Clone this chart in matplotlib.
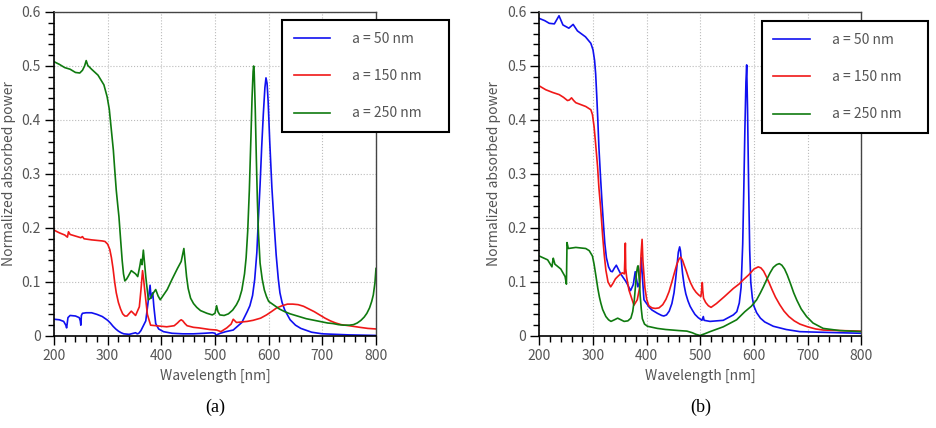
import numpy as np
import matplotlib
matplotlib.use('Agg')
import matplotlib.pyplot as plt
from matplotlib.ticker import MultipleLocator

plt.rcParams['font.family'] = ['Noto Sans CJK JP', 'DejaVu Sans']

labels = ['a = 50 nm', 'a = 150 nm', 'a = 250 nm']
colors = ['#1010f0', '#f01818', '#0f7a0f']

# ---- panel (a) ----
a_wl_50 = [200, 210, 218, 222, 223.5, 226, 230, 240, 247, 249, 250, 251, 253, 260, 270, 280, 290, 300,
           305, 310, 315, 320, 325, 330, 340, 348, 352, 355, 358, 362, 366, 371, 375, 379, 381, 384, 386,
           389.5, 395, 404, 420, 440, 460, 480, 495, 500, 502, 505, 510, 520, 534, 550, 560, 565, 570,
           574, 578, 581, 584, 587, 590, 593, 595, 597, 599, 602, 606, 610, 614, 618, 621, 625, 630,
           640, 650, 660, 680, 700, 750, 800]
a_val_50 = [0.031, 0.030, 0.027, 0.020, 0.015, 0.034, 0.038, 0.037, 0.034, 0.028, 0.020, 0.038, 0.042,
            0.043, 0.043, 0.040, 0.036, 0.029, 0.024, 0.018, 0.013, 0.009, 0.006, 0.004, 0.003, 0.005,
            0.006, 0.004, 0.005, 0.010, 0.018, 0.028, 0.060, 0.094, 0.070, 0.080, 0.055, 0.023, 0.013,
            0.008, 0.005, 0.004, 0.004, 0.005, 0.006, 0.005, 0.001, 0.003, 0.005, 0.008, 0.011, 0.025,
            0.045, 0.056, 0.075, 0.105, 0.155, 0.220, 0.280, 0.350, 0.410, 0.460, 0.478, 0.468, 0.435,
            0.360, 0.275, 0.210, 0.150, 0.105, 0.080, 0.062, 0.048, 0.030, 0.020, 0.014, 0.007, 0.004,
            0.002, 0.001]

a_wl_150 = [200, 210, 220, 225, 227, 230, 240, 250, 253, 256, 270, 290, 295, 300, 304, 307, 310, 313,
            316, 320, 324, 328, 332, 336, 344, 352, 359, 362, 365, 367, 369, 374, 380, 400, 410, 424,
            430, 434, 437, 440, 444, 448, 460, 470, 490, 503, 511, 522, 530, 534, 540, 560, 571, 585,
            596, 605, 615, 625, 635, 645, 655, 665, 675, 685, 695, 705, 715, 725, 735, 750, 770, 785, 800]
a_val_150 = [0.196, 0.191, 0.187, 0.183, 0.193, 0.188, 0.185, 0.182, 0.184, 0.180, 0.178, 0.176, 0.175,
             0.170, 0.160, 0.145, 0.125, 0.100, 0.080, 0.062, 0.050, 0.041, 0.037, 0.037, 0.046, 0.038,
             0.054, 0.085, 0.121, 0.105, 0.085, 0.040, 0.020, 0.018, 0.017, 0.019, 0.024, 0.028, 0.030,
             0.028, 0.023, 0.019, 0.016, 0.015, 0.012, 0.011, 0.008, 0.015, 0.022, 0.031, 0.025, 0.027,
             0.029, 0.033, 0.039, 0.045, 0.052, 0.056, 0.059, 0.059, 0.058, 0.055, 0.050, 0.045, 0.039,
             0.033, 0.028, 0.024, 0.021, 0.019, 0.016, 0.014, 0.013]

a_wl_250 = [200, 210, 220, 230, 240, 248, 253, 257, 260, 263, 270, 282, 293, 299, 303, 306, 308, 310.6,
            313, 316, 319, 321, 324, 327, 329.5, 332, 335, 338, 344, 352, 356, 360, 362, 364, 366.5, 371,
            375.8, 380, 384, 389.5, 394, 398, 411, 420, 430, 437, 442, 447, 450, 454.5, 460, 466, 473,
            485, 495, 500, 503, 505.5, 509, 517, 525, 533, 540, 545, 550, 555, 558, 561, 564, 567, 569,
            571, 572, 573, 575, 577, 579, 581, 584, 588, 592, 596, 600, 610, 620, 630, 640, 650, 660,
            670, 680, 690, 700, 710, 720, 730, 740, 750, 758, 765, 772, 778, 783, 788, 792, 795, 798, 800]
a_val_250 = [0.508, 0.503, 0.497, 0.494, 0.488, 0.487, 0.492, 0.500, 0.510, 0.501, 0.494, 0.483, 0.465,
             0.443, 0.420, 0.390, 0.370, 0.344, 0.310, 0.270, 0.240, 0.221, 0.180, 0.140, 0.115, 0.102,
             0.105, 0.110, 0.121, 0.115, 0.110, 0.130, 0.142, 0.132, 0.159, 0.110, 0.067, 0.070, 0.078,
             0.086, 0.074, 0.067, 0.086, 0.105, 0.125, 0.138, 0.162, 0.110, 0.088, 0.070, 0.060, 0.053,
             0.047, 0.042, 0.039, 0.042, 0.056, 0.045, 0.039, 0.038, 0.041, 0.048, 0.058, 0.068, 0.085,
             0.115, 0.145, 0.195, 0.270, 0.370, 0.440, 0.490, 0.500, 0.490, 0.420, 0.330, 0.250, 0.190,
             0.135, 0.105, 0.085, 0.073, 0.064, 0.057, 0.050, 0.045, 0.041, 0.038, 0.035, 0.032, 0.030,
             0.028, 0.026, 0.024, 0.023, 0.021, 0.020, 0.020, 0.021, 0.024, 0.029, 0.035, 0.042, 0.052,
             0.064, 0.076, 0.098, 0.125]

# ---- panel (b) ----
b_wl_50 = [200, 210, 218.6, 228, 236.7, 244, 255, 263, 271, 286, 296, 300, 303, 305, 307, 309, 311, 314,
           317, 320, 322, 325, 329, 333, 336, 340, 343.5, 347, 351.6, 362, 370, 375, 378.7, 383.6, 387,
           390, 392, 395, 400, 405, 410, 420, 428, 432, 437, 442, 447, 451, 454, 457, 459, 461.5, 463,
           465, 467, 470, 473, 477, 481, 485, 490, 496, 503, 505.6, 507, 518, 542.8, 561.5, 568, 572.6,
           576, 579, 581, 583, 585, 586.4, 588, 590, 592, 594, 597, 600, 605, 612, 620, 636, 660, 685.6,
           720, 760, 800]
b_val_50 = [0.588, 0.584, 0.579, 0.578, 0.593, 0.576, 0.570, 0.577, 0.565, 0.554, 0.542, 0.530, 0.510,
            0.485, 0.445, 0.400, 0.350, 0.295, 0.245, 0.200, 0.172, 0.145, 0.128, 0.120, 0.119, 0.126,
            0.131, 0.124, 0.115, 0.100, 0.084, 0.095, 0.119, 0.091, 0.100, 0.145, 0.110, 0.067, 0.060,
            0.053, 0.048, 0.042, 0.038, 0.037, 0.039, 0.046, 0.060, 0.080, 0.105, 0.135, 0.155, 0.165,
            0.158, 0.135, 0.115, 0.093, 0.078, 0.065, 0.055, 0.048, 0.040, 0.034, 0.029, 0.036, 0.029,
            0.027, 0.029, 0.039, 0.045, 0.061, 0.090, 0.170, 0.270, 0.380, 0.470, 0.502, 0.420, 0.280,
            0.160, 0.100, 0.070, 0.055, 0.043, 0.033, 0.026, 0.018, 0.012, 0.008, 0.007, 0.006, 0.005]

b_wl_150 = [200, 212, 224.8, 237, 245, 252.5, 256, 260, 264, 268, 286.5, 296, 299, 302, 305, 308.5, 311,
            314.6, 318, 321, 324, 328, 333, 337, 342, 348, 354.6, 358.5, 360.3, 361, 362.6, 367, 376.3,
            382.5, 387, 389.5, 391.5, 393, 396.7, 400, 404, 410, 416, 423, 430, 436, 441.7, 447, 452,
            456, 460, 463.5, 467, 470, 474, 478, 482, 487, 492, 497, 501, 502.5, 503.7, 504.5, 506, 510,
            515, 520, 530, 545, 561.5, 572, 580, 590, 600, 608, 613, 618, 623, 628, 634, 640, 648, 656,
            665, 675, 685.6, 700, 715, 729, 760, 800]
b_val_150 = [0.463, 0.456, 0.451, 0.447, 0.442, 0.436, 0.437, 0.441, 0.436, 0.432, 0.425, 0.419, 0.410,
             0.388, 0.355, 0.314, 0.275, 0.233, 0.185, 0.150, 0.122, 0.100, 0.091, 0.097, 0.106, 0.112,
             0.117, 0.115, 0.172, 0.125, 0.110, 0.085, 0.057, 0.067, 0.090, 0.150, 0.179, 0.140, 0.090,
             0.068, 0.056, 0.052, 0.051, 0.052, 0.058, 0.068, 0.082, 0.100, 0.118, 0.132, 0.142, 0.146,
             0.140, 0.131, 0.120, 0.108, 0.098, 0.088, 0.081, 0.076, 0.073, 0.085, 0.099, 0.085, 0.070,
             0.062, 0.056, 0.053, 0.060, 0.073, 0.088, 0.096, 0.104, 0.113, 0.124, 0.128, 0.126, 0.120,
             0.110, 0.099, 0.085, 0.072, 0.058, 0.046, 0.036, 0.028, 0.022, 0.017, 0.013, 0.011, 0.010,
             0.009]

b_wl_250 = [200, 215.5, 223.5, 225, 226, 229, 240, 248, 250.5, 251.6, 254, 268, 286.5, 293, 299, 302,
            305.5, 309, 312, 314.6, 318, 324, 329, 333.5, 340, 346, 352, 358, 365, 370.6, 374, 377, 379,
            381, 383, 384, 385, 386.5, 388, 390, 392, 396, 401.5, 420, 435.5, 460, 475, 485, 492, 499.4,
            508, 518, 542.8, 567.7, 583, 595, 605, 612, 617.5, 624, 630, 636, 642, 647.2, 652, 657, 662,
            668, 674, 680, 688, 698, 710, 729, 760, 800]
b_val_250 = [0.148, 0.141, 0.128, 0.138, 0.144, 0.133, 0.124, 0.110, 0.096, 0.173, 0.162, 0.164, 0.162,
             0.158, 0.148, 0.133, 0.111, 0.088, 0.072, 0.061, 0.049, 0.036, 0.030, 0.027, 0.030, 0.033,
             0.030, 0.027, 0.028, 0.033, 0.045, 0.067, 0.090, 0.116, 0.128, 0.130, 0.120, 0.100, 0.074,
             0.050, 0.032, 0.022, 0.018, 0.014, 0.012, 0.010, 0.009, 0.006, 0.003, 0.001, 0.004, 0.008,
             0.017, 0.030, 0.045, 0.055, 0.067, 0.080, 0.091, 0.105, 0.117, 0.127, 0.132, 0.134, 0.131,
             0.124, 0.113, 0.097, 0.080, 0.066, 0.050, 0.036, 0.024, 0.014, 0.010, 0.008]

panels = [
    ('(a)', [(a_wl_50, a_val_50), (a_wl_150, a_val_150), (a_wl_250, a_val_250)], 0.0577,
     (0.708, 0.642, 0.519, 0.333)),
    ('(b)', [(b_wl_50, b_val_50), (b_wl_150, b_val_150), (b_wl_250, b_val_250)], 0.5762,
     (0.691, 0.642, 0.516, 0.330)),
]

txt = '#555555'
fig = plt.figure(figsize=(9.36, 4.28), dpi=100)

for cap, series, left, leg_box in panels:
    ax = fig.add_axes([left, 0.215, 0.344, 0.757])
    for (wl, val), c, lab in zip(series, colors, labels):
        ax.plot(wl, val, color=c, lw=1.2, label=lab)
    ax.set_xlim(200, 800)
    ax.set_ylim(0, 0.6)
    ax.xaxis.set_major_locator(MultipleLocator(100))
    ax.xaxis.set_minor_locator(MultipleLocator(20))
    ax.set_yticks(np.arange(0, 0.61, 0.1))
    ax.set_yticklabels(['0', '0.1', '0.2', '0.3', '0.4', '0.5', '0.6'])
    ax.yaxis.set_minor_locator(MultipleLocator(0.02))
    ax.tick_params(which='major', length=6.5, width=1.0, labelsize=10, labelcolor=txt, pad=3)
    ax.tick_params(which='minor', length=4.3, width=1.0)
    ax.grid(True, which='major', linestyle=':', color='#bbbbbb', lw=0.8)
    for s in ['left', 'bottom']:
        ax.spines[s].set_linewidth(1.2)
    for s in ['top', 'right']:
        ax.spines[s].set_linewidth(1.0)
        ax.spines[s].set_color('#444444')
    ax.set_xlabel('Wavelength [nm]', fontsize=10, color=txt, labelpad=4)
    ax.set_ylabel('Normalized absorbed power', fontsize=10, color=txt, labelpad=4)
    leg = ax.legend(loc='upper left', bbox_to_anchor=leg_box, mode='expand', fontsize=10,
                    frameon=True, fancybox=False, edgecolor='black', borderpad=0.84,
                    handlelength=2.6, handletextpad=1.6, labelspacing=1.68, borderaxespad=0)
    leg.get_frame().set_linewidth(1.5)
    leg.get_frame().set_alpha(1)
    for t in leg.get_texts():
        t.set_color(txt)
    ax.text(0.5, -0.22, cap, transform=ax.transAxes, ha='center', va='center',
            fontsize=13, family='Liberation Serif')

fig.savefig('out.png', dpi=100)
